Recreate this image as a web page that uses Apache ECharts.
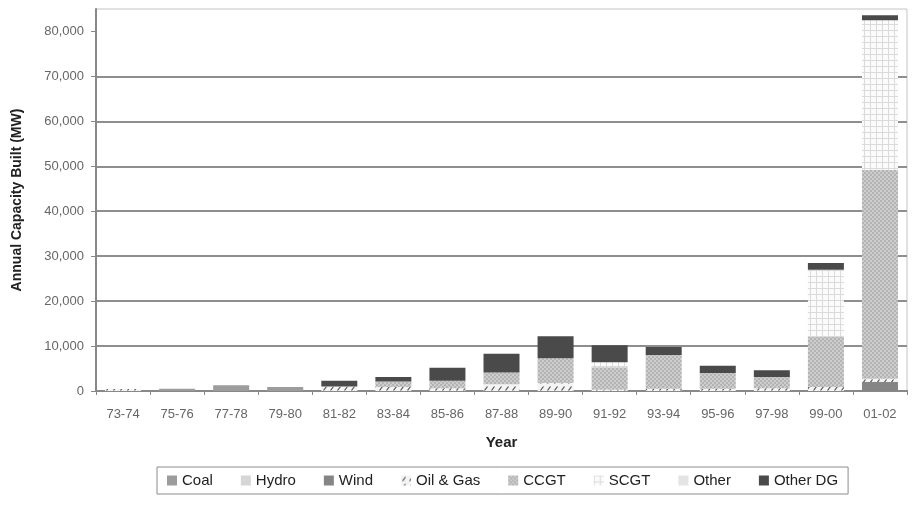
<!DOCTYPE html>
<html>
<head>
<meta charset="utf-8">
<script src="https://cdn.jsdelivr.net/npm/echarts@6/dist/echarts.min.js"></script>
<style>
  html,body{margin:0;padding:0;background:#fff;}
  #chart{width:913px;height:507px;}
</style>
</head>
<body>
<div id="chart"></div>
<script>
// periods on the x axis
const categories = ['73-74','75-76','77-78','79-80','81-82','83-84','85-86','87-88','89-90','91-92','93-94','95-96','97-98','99-00','01-02']

// annual capacity built, MW
const coal     = [0, 500, 1300, 900, 0, 0, 0, 0, 0, 0, 0, 0, 0, 0, 0]
const hydro    = [0, 0, 0, 0, 0, 0, 0, 0, 0, 0, 0, 0, 0, 0, 0]
const wind     = [0, 0, 0, 0, 0, 0, 0, 0, 0, 0, 0, 0, 0, 0, 2000]
const oilGas   = [450, 0, 0, 0, 1000, 900, 600, 1500, 1800, 300, 500, 500, 600, 900, 700]
const ccgt     = [0, 0, 0, 0, 0, 1200, 1700, 2600, 5500, 5000, 7500, 3500, 2500, 11100, 46500]
const scgt     = [0, 0, 0, 0, 0, 0, 0, 0, 0, 1100, 0, 0, 0, 15000, 33300]
const other    = [0, 0, 0, 0, 0, 0, 0, 0, 0, 0, 0, 0, 0, 0, 0]
const otherDG  = [0, 0, 0, 0, 1300, 1000, 2900, 4200, 4900, 3800, 1800, 1600, 1500, 1500, 1100]

const yTicks = [0, 10000, 20000, 30000, 40000, 50000, 60000, 70000, 80000]

// small canvas fills to mimic the printed hatching
function pattern(size, draw){
  const c = document.createElement('canvas')
  c.width = size; c.height = size
  draw(c.getContext('2d'), size)
  return {image: c, repeat: 'repeat'}
}
const oilGasFill = pattern(7, (g, s) => {
  g.fillStyle = '#f4f4f4'; g.fillRect(0, 0, s, s)
  g.strokeStyle = '#555'; g.lineWidth = 1.2
  g.beginPath(); g.moveTo(1.5, 5.5); g.lineTo(4.5, 1.5); g.stroke()
})
const ccgtFill = pattern(4, (g, s) => {
  g.fillStyle = '#cdcdcd'; g.fillRect(0, 0, s, s)
  g.fillStyle = '#b4b4b4'
  g.fillRect(0, 0, 2, 2); g.fillRect(2, 2, 2, 2)
})
const scgtFill = pattern(6, (g, s) => {
  g.fillStyle = '#fbfbfb'; g.fillRect(0, 0, s, s)
  g.fillStyle = '#dadada'
  g.fillRect(0, 0, s, 1); g.fillRect(0, 0, 1, s)
})

const seriesDefs = [
  ['Coal', coal, '#9c9c9c'],
  ['Hydro', hydro, '#d6d6d6'],
  ['Wind', wind, '#858585'],
  ['Oil & Gas', oilGas, oilGasFill],
  ['CCGT', ccgt, ccgtFill],
  ['SCGT', scgt, scgtFill],
  ['Other', other, '#e4e4e4'],
  ['Other DG', otherDG, '#4a4a4a']
]

const chart = echarts.init(document.getElementById('chart'), null, {renderer: 'canvas'})
const font = 'Liberation Sans, Arial, sans-serif'

chart.setOption({
  animation: false,
  backgroundColor: '#fff',
  textStyle: {fontFamily: font},
  grid: {
    left: 96, right: 6, top: 9, bottom: 116,
    show: true, borderColor: '#c4c4c4', borderWidth: 1, backgroundColor: 'transparent'
  },
  legend: {
    bottom: 13,
    left: 157,
    itemWidth: 10,
    itemHeight: 10,
    itemGap: 28,
    padding: [6, 10],
    borderColor: '#8c8c8c',
    borderWidth: 1,
    textStyle: {fontSize: 15, color: '#222', fontFamily: font},
    data: seriesDefs.map(d => ({name: d[0], icon: 'rect'}))
  },
  xAxis: {
    type: 'category',
    data: categories,
    boundaryGap: true,
    name: 'Year',
    nameLocation: 'middle',
    nameGap: 44,
    nameTextStyle: {fontSize: 15, fontWeight: 'bold', color: '#222'},
    axisLine: {lineStyle: {color: '#888', width: 2}},
    axisTick: {show: true, length: 4, lineStyle: {color: '#888'}},
    axisLabel: {fontSize: 13, color: '#666', margin: 17}
  },
  yAxis: {
    type: 'value',
    min: 0,
    max: 85000,
    interval: 10000,
    name: 'Annual Capacity Built (MW)',
    nameLocation: 'middle',
    nameGap: 72,
    nameTextStyle: {fontSize: 14, fontWeight: 'bold', color: '#222'},
    axisLine: {show: true, lineStyle: {color: '#888', width: 2}},
    axisTick: {show: true, length: 5, customValues: yTicks, lineStyle: {color: '#888'}},
    axisLabel: {
      fontSize: 13, color: '#666', margin: 12,
      customValues: yTicks,
      formatter: v => v.toLocaleString('en-US')
    },
    splitLine: {show: true, showMinLine: false, showMaxLine: false, lineStyle: {color: '#8e8e8e', width: 2}}
  },
  series: seriesDefs.map(([name, values, color]) => ({
    name,
    type: 'bar',
    stack: 'total',
    barWidth: 36,
    data: values,
    itemStyle: {color}
  }))
})
</script>
</body>
</html>
